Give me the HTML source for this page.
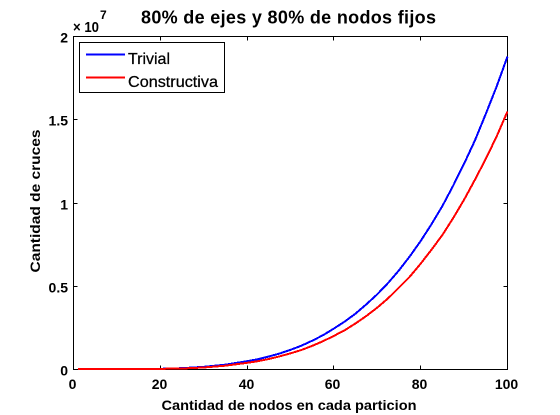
<!DOCTYPE html>
<html>
<head>
<meta charset="utf-8">
<title>80% de ejes y 80% de nodos fijos</title>
<style>
html,body{margin:0;padding:0;background:#fff;width:560px;height:415px;overflow:hidden}
svg{display:block}
text{font-family:"Liberation Sans",sans-serif;fill:#000}
</style>
</head>
<body>
<svg id="chart" width="560" height="415" viewBox="0 0 560 415" xmlns="http://www.w3.org/2000/svg">
  <text x="288.5" y="23.5" text-anchor="middle" font-size="18" font-weight="bold" textLength="295" lengthAdjust="spacing">80% de ejes y 80% de nodos fijos</text>
  <text x="73" y="32" font-size="15" font-weight="bold" textLength="26" lengthAdjust="spacingAndGlyphs">× 10</text>
  <text x="100" y="19" font-size="12" font-weight="bold">7</text>
  <text x="289" y="410" text-anchor="middle" font-size="14" font-weight="bold" textLength="255" lengthAdjust="spacingAndGlyphs">Cantidad de nodos en cada particion</text>
  <text transform="translate(40 201) rotate(-90)" text-anchor="middle" font-size="14" font-weight="bold" textLength="143" lengthAdjust="spacingAndGlyphs">Cantidad de cruces</text>
  <g id="plot"></g>
  <g>
    <rect x="79.5" y="42.5" width="145" height="50" fill="#fff" stroke="#000" stroke-width="1" shape-rendering="crispEdges"/>
    <line x1="86" x2="125" y1="54.5" y2="54.5" stroke="#0000ff" stroke-width="2" shape-rendering="crispEdges"/>
    <text x="128" y="64" font-size="16" stroke="#000" stroke-width="0.25" textLength="42" lengthAdjust="spacingAndGlyphs">Trivial</text>
    <line x1="86" x2="125" y1="77.5" y2="77.5" stroke="#ff0000" stroke-width="2" shape-rendering="crispEdges"/>
    <text x="128" y="87" font-size="16" stroke="#000" stroke-width="0.25" textLength="90" lengthAdjust="spacingAndGlyphs">Constructiva</text>
  </g>
</svg>
<script>
const nodeCounts = [1, 5, 10, 15, 20, 25, 30, 35, 40, 42.5, 45, 47.5, 50, 52.5, 55, 57.5, 60, 62.5, 65, 67.5, 70, 72.5, 75, 77.5, 80, 82.5, 85, 87.5, 90, 92.5, 95, 97.5, 100];
const trivialValues = [0.002, 0.002, 0.002, 0.003, 0.004, 0.008, 0.016, 0.029, 0.05, 0.062, 0.078, 0.096, 0.118, 0.143, 0.173, 0.206, 0.246, 0.288, 0.336, 0.392, 0.452, 0.52, 0.596, 0.68, 0.772, 0.873, 0.982, 1.105, 1.236, 1.376, 1.535, 1.7, 1.88];
const constructivaValues = [0.002, 0.002, 0.002, 0.003, 0.004, 0.006, 0.012, 0.023, 0.04, 0.05, 0.063, 0.079, 0.097, 0.117, 0.142, 0.17, 0.202, 0.236, 0.277, 0.322, 0.372, 0.428, 0.492, 0.558, 0.636, 0.72, 0.808, 0.91, 1.02, 1.14, 1.265, 1.4, 1.55];
const xTickLabels = [0, 20, 40, 60, 80, 100];
const yTickLabels = [0, 0.5, 1, 1.5, 2];

const SVG_NS = 'http://www.w3.org/2000/svg';
const plot = document.getElementById('plot');
const left = 73.5, right = 507.5, top_ = 36.5, bottom = 369.5;
const xMax = 100, yMax = 2;
function xScale(v) { return left + (v / xMax) * (right - left); }
function yScale(v) { return bottom - (v / yMax) * (bottom - top_); }

const frame = document.createElementNS(SVG_NS, 'rect');


frame.setAttribute('x', left);
frame.setAttribute('y', top_);
frame.setAttribute('width', right - left);
frame.setAttribute('height', bottom - top_);
frame.setAttribute('fill', 'none');
frame.setAttribute('stroke', '#000');
frame.setAttribute('shape-rendering', 'crispEdges');
plot.appendChild(frame);

function addTick(x1, y1, x2, y2, name) {
  const t = document.createElementNS(SVG_NS, 'line');
  
  
  t.setAttribute('x1', x1);
  t.setAttribute('y1', y1);
  t.setAttribute('x2', x2);
  t.setAttribute('y2', y2);
  t.setAttribute('stroke', '#000');
  t.setAttribute('shape-rendering', 'crispEdges');
  plot.appendChild(t);
}
function addLabel(x, y, anchor, str, name) {
  const t = document.createElementNS(SVG_NS, 'text');
  
  
  t.setAttribute('x', x);
  t.setAttribute('y', y);
  t.setAttribute('text-anchor', anchor);
  t.setAttribute('font-size', '14');
  t.setAttribute('font-weight', 'bold');
  t.textContent = str;
  plot.appendChild(t);
}
xTickLabels.forEach(v => {
  const x = Math.round(xScale(v) - 0.5) + 0.5;
  if (v > 0 && v < xMax) {
    addTick(x, bottom, x, bottom - 4, 'x-tick-bottom');
    addTick(x, top_, x, top_ + 4, 'x-tick-top');
  }
  addLabel(x - 1, 389, 'middle', String(v), 'x-tick-label');
});
yTickLabels.forEach(v => {
  const y = Math.round(yScale(v) - 0.5) + 0.5;
  if (v > 0 && v < yMax) {
    addTick(left, y, left + 4, y, 'y-tick-left');
    addTick(right, y, right - 4, y, 'y-tick-right');
  }
  addLabel(68, y + 6, 'end', String(v), 'y-tick-label');
});

function drawSeries(values, color, name) {
  const line = document.createElementNS(SVG_NS, 'polyline');
  
  
  line.setAttribute('points', values.map((v, i) => xScale(nodeCounts[i]).toFixed(2) + ',' + yScale(v).toFixed(2)).join(' '));
  line.setAttribute('fill', 'none');
  line.setAttribute('stroke', color);
  line.setAttribute('stroke-width', '2');
  line.setAttribute('shape-rendering', 'crispEdges');
  plot.appendChild(line);
}
drawSeries(trivialValues, '#0000ff', 'series-trivial');
drawSeries(constructivaValues, '#ff0000', 'series-constructiva');
</script>
</body>
</html>
